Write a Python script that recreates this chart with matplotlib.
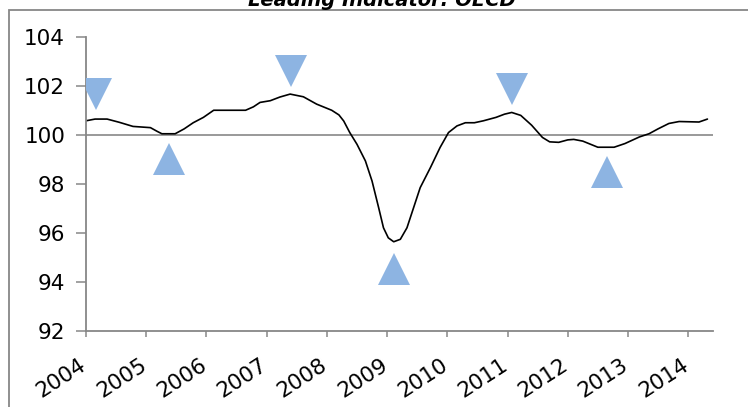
import matplotlib
matplotlib.use("Agg")
import matplotlib.pyplot as plt
import matplotlib.transforms as mtransforms
from matplotlib.patches import Rectangle

# ── OECD composite leading indicator (fractional years) ──────────────────────
years = [2004.00, 2004.15, 2004.35, 2004.55, 2004.78, 2005.07, 2005.18, 2005.26,
         2005.48, 2005.63, 2005.78, 2005.95, 2006.12, 2006.40, 2006.65, 2006.78,
         2006.89, 2007.06, 2007.22, 2007.39, 2007.61, 2007.83, 2008.08, 2008.20,
         2008.28, 2008.38, 2008.50, 2008.64, 2008.75, 2008.86, 2008.94, 2009.02,
         2009.11, 2009.22, 2009.33, 2009.44, 2009.55, 2009.72, 2009.88, 2010.02,
         2010.16, 2010.30, 2010.45, 2010.60, 2010.81, 2010.95, 2011.07, 2011.22,
         2011.40, 2011.58, 2011.70, 2011.85, 2012.00, 2012.10, 2012.25, 2012.40,
         2012.50, 2012.77, 2012.95, 2013.19, 2013.35, 2013.50, 2013.68, 2013.85,
         2014.18, 2014.32]
cli = [100.58, 100.65, 100.65, 100.52, 100.35, 100.30, 100.15, 100.05,
       100.05, 100.25, 100.50, 100.72, 101.01, 101.01, 101.01, 101.15,
       101.33, 101.40, 101.55, 101.67, 101.56, 101.26, 101.01, 100.82,
       100.57, 100.10, 99.62, 98.94, 98.12, 97.03, 96.21, 95.80,
       95.64, 95.74, 96.21, 97.03, 97.85, 98.67, 99.49, 100.10,
       100.37, 100.50, 100.50, 100.58, 100.72, 100.85, 100.92, 100.80,
       100.40, 99.90, 99.72, 99.70, 99.80, 99.82, 99.75, 99.60,
       99.50, 99.50, 99.65, 99.92, 100.05, 100.25, 100.47, 100.55,
       100.53, 100.65]

# turning points: peaks marked from above, troughs from below
peak_x = [2004.17, 2007.40, 2011.07]
peak_y = [101.66, 102.61, 101.86]
trough_x = [2005.38, 2009.12, 2012.66]
trough_y = [99.02, 94.52, 98.47]

year_ticks = list(range(2004, 2015))
value_ticks = [92, 94, 96, 98, 100, 102, 104]

GREY = "#878787"
BLUE = "#8db4e2"

fig = plt.figure(figsize=(7.48, 4.07), dpi=100)
ax = fig.add_axes([0.115, 0.187, 0.838, 0.722])

# outer chart frame (runs off right/bottom edges)
fig.patches.append(Rectangle((0.012, -0.05), 1.1, 1.025, transform=fig.transFigure,
                             fill=False, edgecolor=GREY, linewidth=1.3, zorder=0))
fig.text(0.51, 1 - 6.5 / 407, "Leading Indicator: OECD", ha="center", va="baseline",
         fontsize=14, fontweight="bold", fontstyle="italic", color="black")

ax.axhline(100, color=GREY, linewidth=1.2, zorder=1)
ax.plot(years, cli, color="black", linewidth=1.2, zorder=2,
        solid_joinstyle="round", solid_capstyle="round")
ax.plot(peak_x, peak_y, linestyle="none", marker="v", markersize=23.5,
        color=BLUE, markeredgewidth=0, zorder=3)
ax.plot(trough_x, trough_y, linestyle="none", marker="^", markersize=23.5,
        color=BLUE, markeredgewidth=0, zorder=3)

ax.set_xlim(2004, 2014.41)
ax.set_ylim(92, 104)
ax.set_yticks(value_ticks)
ax.set_xticks(year_ticks)
ax.set_xticklabels([str(y) for y in year_ticks], rotation=33, ha="right",
                   va="top", rotation_mode="anchor")

for side in ("top", "right"):
    ax.spines[side].set_visible(False)
for side in ("left", "bottom"):
    ax.spines[side].set_color(GREY)
    ax.spines[side].set_linewidth(1.3)

ax.tick_params(axis="y", direction="out", length=7, width=1.1, color=GREY,
               labelsize=15.5, pad=8)
ax.tick_params(axis="x", direction="out", length=4.5, width=1.1, color=GREY,
               labelsize=15.5, pad=13)

# nudge the slanted year labels left so they end under their ticks
shift = mtransforms.ScaledTranslation(-7 / 100, 0, fig.dpi_scale_trans)
for lbl in ax.get_xticklabels():
    lbl.set_transform(lbl.get_transform() + shift)

fig.savefig("out.png", dpi=100)
